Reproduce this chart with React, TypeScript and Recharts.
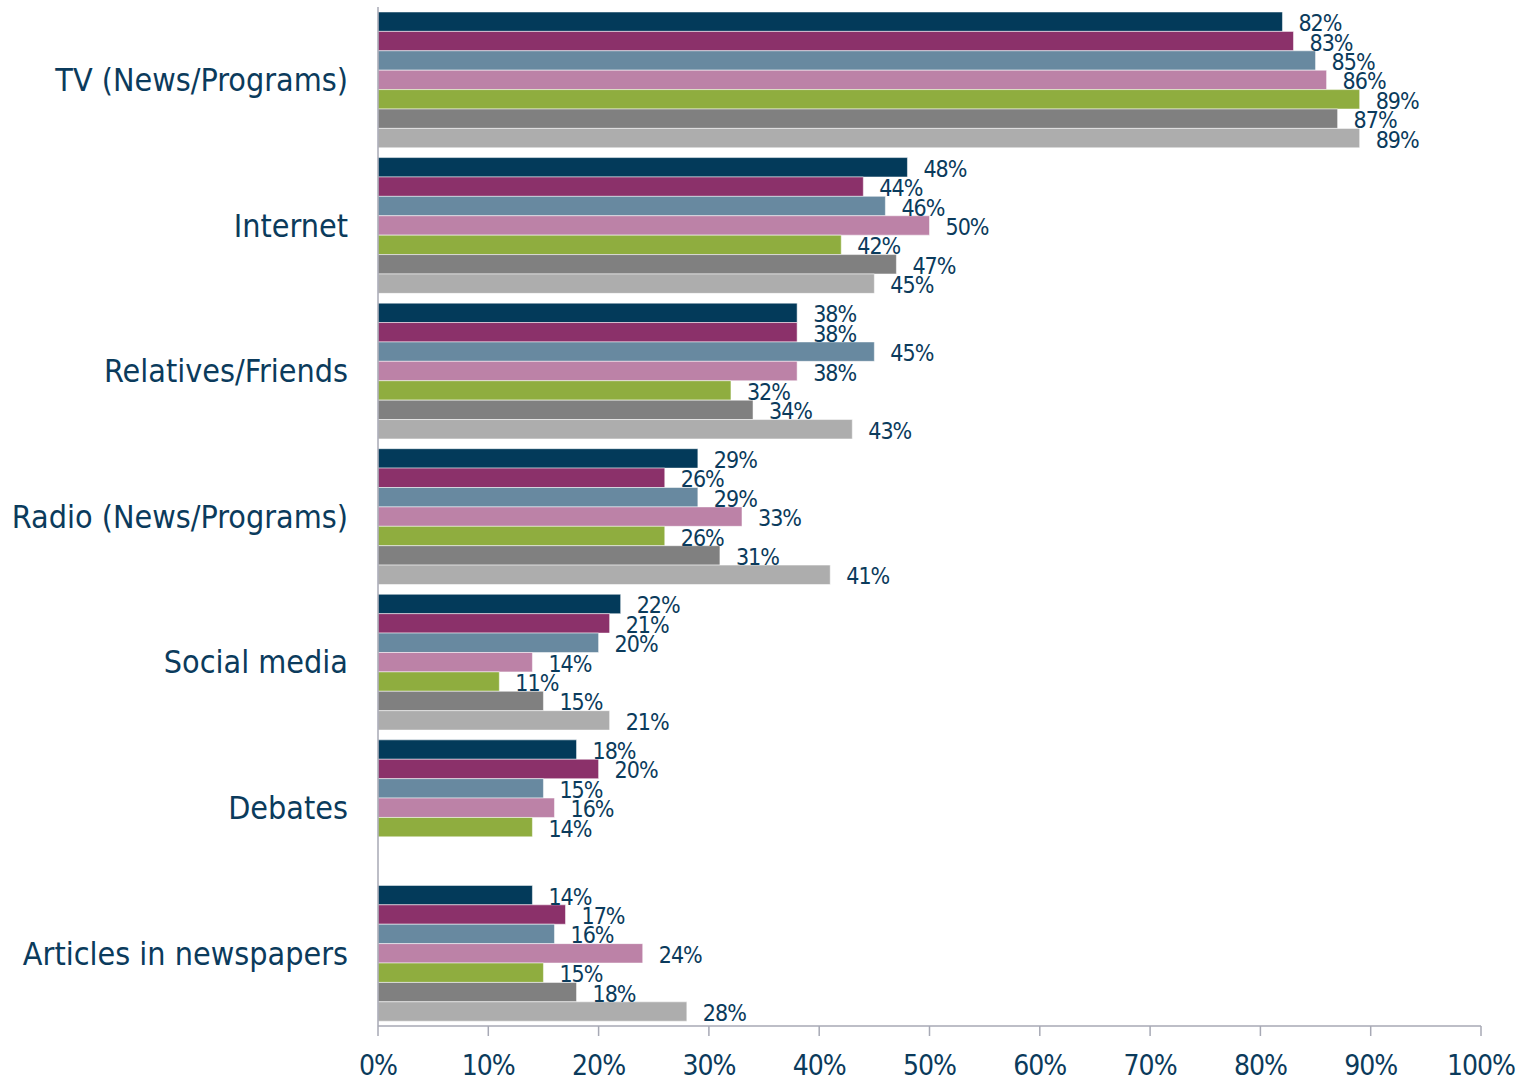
import React from 'react';
import { BarChart, Bar, XAxis, YAxis, LabelList } from 'recharts';

const categories = [
  'TV (News/Programs)',
  'Internet',
  'Relatives/Friends',
  'Radio (News/Programs)',
  'Social media',
  'Debates',
  'Articles in newspapers',
];

const series1 = [82, 48, 38, 29, 22, 18, 14];
const series2 = [83, 44, 38, 26, 21, 20, 17];
const series3 = [85, 46, 45, 29, 20, 15, 16];
const series4 = [86, 50, 38, 33, 14, 16, 24];
const series5 = [89, 42, 32, 26, 11, 14, 15];
const series6 = [87, 47, 34, 31, 15, null, 18];
const series7 = [89, 45, 43, 41, 21, null, 28];

const xTicks = [0, 10, 20, 30, 40, 50, 60, 70, 80, 90, 100];

const seriesList = [
  { key: 's1', values: series1, color: '#033A5A' },
  { key: 's2', values: series2, color: '#8B316A' },
  { key: 's3', values: series3, color: '#6889A0' },
  { key: 's4', values: series4, color: '#BC82A7' },
  { key: 's5', values: series5, color: '#8FAD3F' },
  { key: 's6', values: series6, color: '#808080' },
  { key: 's7', values: series7, color: '#ADADAD' },
];

const data = categories.map((c, i) => {
  const row: any = { category: c };
  seriesList.forEach((s) => {
    row[s.key] = s.values[i];
  });
  return row;
});

const FONT = "'DejaVu Sans Condensed', 'DejaVu Sans', sans-serif";
const NAVY = '#0B3B5C';
const AXIS = '#A7A9B5';

const renderLabel = (props: any) => {
  const { value } = props;
  if (value === null || value === undefined) return null;
  const vb = props.viewBox || {};
  const x = props.x ?? vb.x;
  const y = props.y ?? vb.y;
  const width = props.width ?? vb.width;
  const height = props.height ?? vb.height;
  return (
    <text
      x={x + width + 16}
      y={y + height / 2 + 3}
      dominantBaseline="middle"
      textAnchor="start"
      fill={NAVY}
      fontFamily={FONT}
      fontSize={23}
      letterSpacing={-1}
    >
      {value}%
    </text>
  );
};

export default function App() {
  return (
    <div style={{ position: 'absolute', left: 0, top: 0, background: '#fff' }}>
      <BarChart
        width={1534}
        height={1081}
        data={data}
        layout="vertical"
        margin={{ top: 7, right: 53, bottom: 0, left: 0 }}
        barCategoryGap={4.75}
        barGap={0}
      >
        <XAxis
          type="number"
          domain={[0, 100]}
          ticks={xTicks}
          tickFormatter={(v: number) => `${v}%`}
          height={55}
          axisLine={{ stroke: AXIS, strokeWidth: 1.5 }}
          tickLine={{ stroke: AXIS, strokeWidth: 1.5 }}
          tickSize={10}
          tickMargin={19}
          tick={{ fill: NAVY, fontSize: 28, fontFamily: FONT, letterSpacing: -1 }}
          interval={0}
        />
        <YAxis
          type="category"
          dataKey="category"
          width={378}
          axisLine={{ stroke: AXIS, strokeWidth: 1.5 }}
          tickLine={false}
          tickSize={0}
          tickMargin={30}
          tick={{ fill: NAVY, fontSize: 32, fontFamily: FONT }}
          interval={0}
        />
        {seriesList.map((s) => (
          <Bar
            key={s.key}
            dataKey={s.key}
            fill={s.color}
            stroke="#ffffff"
            strokeOpacity={0.5}
            strokeWidth={1}
            barSize={19.4}
            isAnimationActive={false}
          >
            <LabelList dataKey={s.key} content={renderLabel} />
          </Bar>
        ))}
      </BarChart>
    </div>
  );
}
